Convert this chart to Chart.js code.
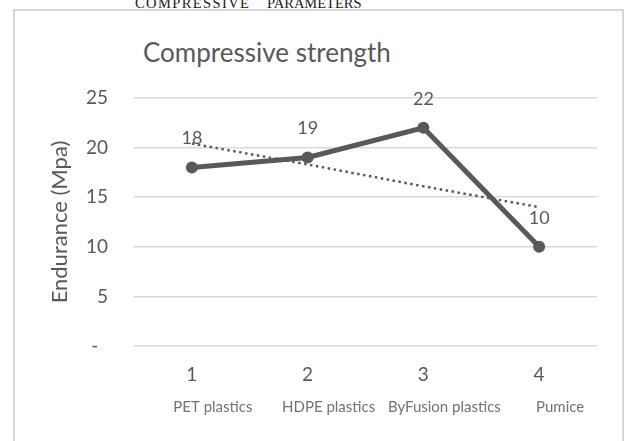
<!DOCTYPE html>
<html>
<head>
<meta charset="utf-8">
<script src="https://cdn.jsdelivr.net/npm/chart.js@4"></script>
<style>
  body { margin: 0; background: #fff; }
  #page { position: relative; width: 624px; height: 441px; overflow: hidden; background: #fff; }
  #caption { position: absolute; top: -4px; left: 135px; font: 14.5px "Liberation Serif", serif; line-height: 14px; color: #1a1a1a; white-space: pre; }
  #caption .w1 { letter-spacing: 1.4px; }
  #caption .w2 { position: absolute; left: 132px; top: 0; }
  #frame { position: absolute; left: 13px; top: 9px; width: 607px; height: 460px; border: 2px solid #d6d6d6; }
  #title { position: absolute; left: 143px; top: 36px; font: 26px Lato, sans-serif; color: #595959; white-space: nowrap; }
  #wrap { position: absolute; left: 0; top: 0; width: 624px; height: 441px; }
</style>
</head>
<body>
<div id="page">
  <div id="caption"><span class="w1">COMPRESSIVE</span><span class="w2">PARAMETERS</span></div>
  <div id="frame"></div>
  <div id="title">Compressive strength</div>
  <div id="wrap"><canvas id="chart" width="624" height="441"></canvas></div>
</div>
<script>
// chart data
const xTicks = ['1', '2', '3', '4'];
const materials = ['PET plastics', 'HDPE plastics', 'ByFusion plastics', 'Pumice'];
const strength = [18, 19, 22, 10];
// linear trendline
const trendValues = [20.4, 18.3, 16.1, 14.0];
const yTicks = [0, 5, 10, 15, 20, 25];

const grey = '#595959';

// value labels above the points
const pointLabels = {
  id: 'pointLabels',
  afterDatasetsDraw(chart) {
    const ctx = chart.ctx;
    const meta = chart.getDatasetMeta(0);
    ctx.save();
    ctx.font = '18px Lato, sans-serif';
    ctx.fillStyle = grey;
    ctx.textAlign = 'center';
    ctx.textBaseline = 'middle';
    meta.data.forEach((pt, i) => {
      ctx.fillText(String(strength[i]), pt.x, pt.y - 29);
    });
    ctx.restore();
  }
};

new Chart(document.getElementById('chart'), {
  type: 'line',
  data: {
    labels: xTicks,
    datasets: [
      {
        label: 'Compressive strength',
        data: strength,
        borderColor: grey,
        backgroundColor: grey,
        borderWidth: 5,
        pointRadius: 6,
        pointBorderWidth: 0,
        pointBackgroundColor: grey,
        tension: 0
      },
      {
        label: 'Linear trend',
        data: trendValues,
        borderColor: grey,
        borderWidth: 2.5,
        borderDash: [2.5, 3.5],
        pointRadius: 0,
        tension: 0
      }
    ]
  },
  options: {
    responsive: false,
    animation: false,
    layout: { padding: { left: 43, top: 98, right: 27, bottom: 15 } },
    plugins: {
      legend: { display: false },
      tooltip: { enabled: false },
      title: { display: false }
    },
    scales: {
      y: {
        min: 0,
        max: 25,
        afterBuildTicks: (scale) => { scale.ticks = yTicks.map(v => ({ value: v })); },
        afterFit: (scale) => { scale.width = 134 - 43; },
        ticks: {
          padding: 26,
          color: grey,
          font: { family: 'Lato', size: 19 },
          callback: (v) => (v === 0 ? '-  ' : String(v))
        },
        grid: { color: '#d9d9d9', lineWidth: 1.5, drawTicks: false },
        border: { display: false },
        title: {
          display: true,
          text: 'Endurance (Mpa)',
          color: grey,
          font: { family: 'Lato', size: 22 }
        }
      },
      x: {
        weight: 0,
        offset: true,
        afterFit: (scale) => { scale.height = 50; },
        ticks: { padding: 17, color: grey, font: { family: 'Lato', size: 19 } },
        grid: { display: false, drawTicks: false },
        border: { display: false }
      },
      x2: {
        type: 'category',
        position: 'bottom',
        weight: 1,
        labels: materials,
        offset: true,
        afterFit: (scale) => { scale.height = 30; },
        ticks: {
          padding: 2,
          labelOffset: 21,
          autoSkip: false,
          maxRotation: 0,
          minRotation: 0,
          color: '#737373',
          font: { family: 'Lato', size: 15 }
        },
        grid: { display: false, drawTicks: false },
        border: { display: false }
      }
    }
  },
  plugins: [pointLabels]
});
</script>
</body>
</html>
